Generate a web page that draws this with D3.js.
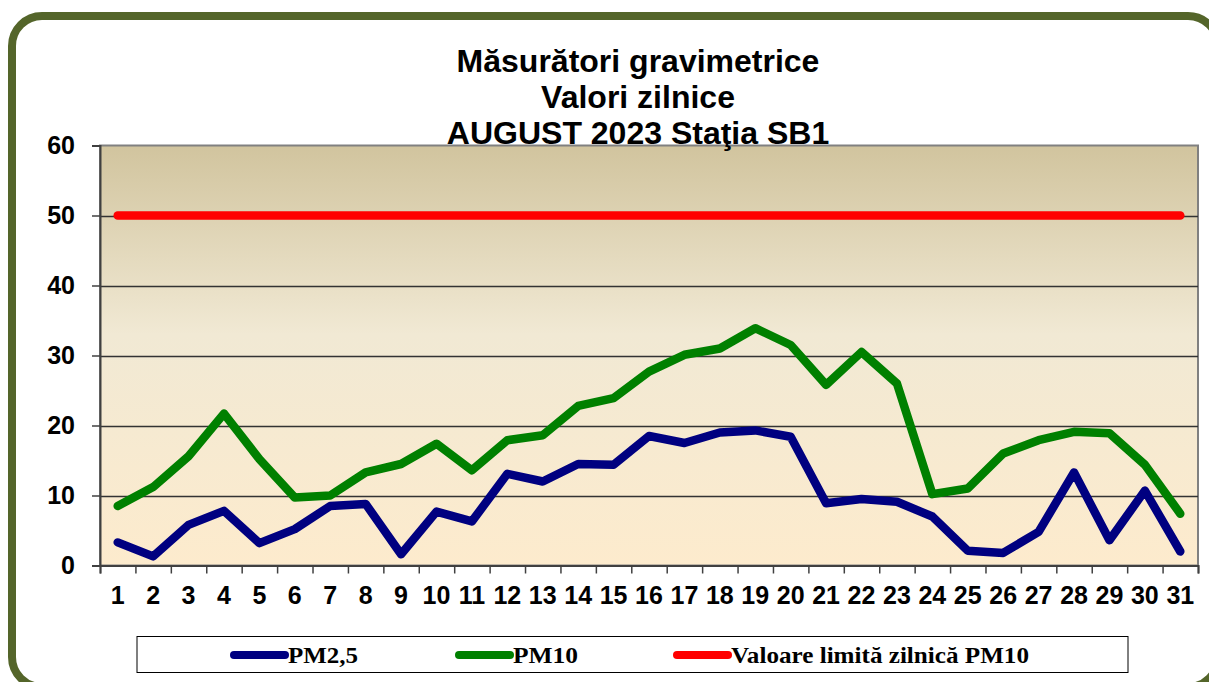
<!DOCTYPE html>
<html>
<head>
<meta charset="UTF-8">
<title>Masuratori gravimetrice</title>
<script src="https://cdn.jsdelivr.net/npm/d3@7"></script>
<style type="text/css">
body { margin: 0; background: #fff; }
svg { display: block; }
</style>
</head>
<body>
<div class="chart"></div>
<script>
// values
var days = d3.range(1, 32).map(String);
var pm25 = [3.3, 1.3, 5.8, 7.8, 3.2, 5.2, 8.5, 8.8, 1.6, 7.7, 6.3, 13.1, 12.0, 14.5, 14.4, 18.5,
  17.5, 19.0, 19.3, 18.4, 8.9, 9.5, 9.1, 7.0, 2.1, 1.8, 4.8, 13.3, 3.6, 10.7, 2.0];
var pm10 = [8.5, 11.2, 15.6, 21.7, 15.2, 9.7, 10.0, 13.3, 14.5, 17.4, 13.6, 17.9, 18.6, 22.8, 23.9, 27.7,
  30.1, 31.0, 33.9, 31.5, 25.8, 30.5, 26.0, 10.2, 11.0, 16.0, 17.9, 19.1, 18.9, 14.4, 7.4];
var limit = days.map(function(){ return 50; });
var yTicks = [0, 10, 20, 30, 40, 50, 60];
var titleLines = ["Măsurători gravimetrice", "Valori zilnice", "AUGUST 2023 Staţia SB1"];
var seriesNames = ["PM2,5", "PM10", "Valoare limită zilnică PM10"];
var seriesColors = ["#000080", "#008000", "#ff0000"];

var W = 1209, H = 682;
var svg = d3.select(".chart").append("svg")
  .attr("width", W).attr("height", H);

// outer rounded frame
svg.append("rect")
  .attr("x", 12).attr("y", 16)
  .attr("width", 1206).attr("height", 671)
  .attr("rx", 30).attr("ry", 30)
  .attr("fill", "#fff")
  .attr("stroke", "#54652a")
  .attr("stroke-width", 8);

var plotL = 100, plotR = 1198, plotT = 145.5, plotB = 565.5;

var x = d3.scaleBand().domain(days).range([plotL, plotR]).padding(0);
var xb = d3.scaleLinear().domain([0, days.length]).range([plotL, plotR]);
var y = d3.scaleLinear().domain([0, 60]).range([plotB, plotT]);

var defs = svg.append("defs");
var grad = defs.append("linearGradient").attr("id", "bg")
  .attr("x1", 0).attr("y1", 0).attr("x2", 0).attr("y2", 1);
grad.append("stop").attr("offset", "0%").attr("stop-color", "#d1c49e");
grad.append("stop").attr("offset", "45%").attr("stop-color", "#f1e9d4");
grad.append("stop").attr("offset", "100%").attr("stop-color", "#fdebcd");

// plot area
svg.append("rect")
  .attr("x", plotL).attr("y", plotT)
  .attr("width", plotR - plotL).attr("height", plotB - plotT)
  .attr("fill", "url(#bg)")
  .attr("stroke", "#808080")
  .attr("stroke-width", 2);

// gridlines
svg.append("g").selectAll("line")
  .data(yTicks.filter(function(d){ return d > 0 && d < 60; }))
  .enter().append("line")
  .attr("x1", plotL).attr("x2", plotR)
  .attr("y1", function(d){ return Math.round(y(d)) + 0.5; })
  .attr("y2", function(d){ return Math.round(y(d)) + 0.5; })
  .attr("stroke", "#333")
  .attr("stroke-width", 1.4);

// y axis
var yAxis = svg.append("g")
  .attr("transform", "translate(" + plotL + ",0)")
  .call(d3.axisLeft(y).tickValues(yTicks).tickSize(8).tickPadding(17));
yAxis.select(".domain").attr("stroke", "#404040").attr("stroke-width", 2);
yAxis.selectAll(".tick line").attr("stroke", "#404040").attr("stroke-width", 1.5);
yAxis.selectAll("text")
  .attr("font-family", "Liberation Sans, Arial, sans-serif")
  .attr("font-weight", "bold").attr("font-size", 25).attr("fill", "#000");

// x axis: ticks between categories, labels centred
var xTickAxis = svg.append("g")
  .attr("transform", "translate(0," + plotB + ")")
  .call(d3.axisBottom(xb).tickValues(d3.range(days.length + 1)).tickSize(8).tickFormat(""));
xTickAxis.select(".domain").attr("stroke", "#404040").attr("stroke-width", 2);
xTickAxis.selectAll(".tick line").attr("stroke", "#404040").attr("stroke-width", 1.5);

var xAxis = svg.append("g")
  .attr("transform", "translate(0," + plotB + ")")
  .call(d3.axisBottom(x).tickSize(0).tickPadding(21));
xAxis.select(".domain").remove();
xAxis.selectAll("text")
  .attr("font-family", "Liberation Sans, Arial, sans-serif")
  .attr("font-weight", "bold").attr("font-size", 25).attr("fill", "#000");

// series
var line = d3.line()
  .x(function(d, i){ return x(days[i]) + x.bandwidth() / 2; })
  .y(function(d){ return y(d); });

var series = [pm25, pm10, limit];
svg.append("g").selectAll("path")
  .data([limit, pm10, pm25])
  .enter().append("path")
  .attr("d", line)
  .attr("fill", "none")
  .attr("stroke", function(d){ return seriesColors[series.indexOf(d)]; })
  .attr("stroke-width", 8.5)
  .attr("stroke-linejoin", "round")
  .attr("stroke-linecap", "round");

// legend
svg.append("rect")
  .attr("x", 137).attr("y", 636.5)
  .attr("width", 991).attr("height", 36)
  .attr("fill", "#fff").attr("stroke", "#000").attr("stroke-width", 1);

var legendX = [234, 459, 677];
var legendW = [70, 65, 298];
var lg = svg.append("g").selectAll("g")
  .data(seriesNames)
  .enter().append("g")
  .attr("transform", function(d, i){ return "translate(" + legendX[i] + ",655)"; });
lg.append("line")
  .attr("x1", 0).attr("x2", 51)
  .attr("stroke", function(d, i){ return seriesColors[i]; })
  .attr("stroke-width", 8)
  .attr("stroke-linecap", "round");
lg.append("text")
  .attr("x", 54).attr("y", 8)
  .attr("font-family", "Liberation Serif, Times New Roman, serif")
  .attr("font-weight", "bold").attr("font-size", 24)
  .attr("textLength", function(d, i){ return legendW[i]; })
  .attr("lengthAdjust", "spacingAndGlyphs")
  .text(function(d){ return d; });

// title
svg.append("g").selectAll("text")
  .data(titleLines)
  .enter().append("text")
  .attr("x", 638)
  .attr("y", function(d, i){ return 72 + i * 36; })
  .attr("text-anchor", "middle")
  .attr("font-family", "Liberation Sans, Arial, sans-serif")
  .attr("font-weight", "bold").attr("font-size", 32)
  .text(function(d){ return d; });
</script>
</body>
</html>
